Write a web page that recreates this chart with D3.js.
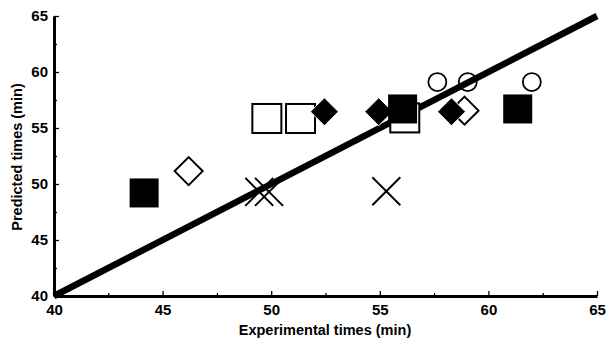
<!DOCTYPE html>
<html>
<head>
<meta charset="utf-8">
<script src="https://cdn.jsdelivr.net/npm/d3@7"></script>
<style>
  body { margin: 0; background: #fff; }
  svg { display: block; }
  text { font-family: "Liberation Sans", Arial, sans-serif; font-weight: bold; fill: #000; }
</style>
</head>
<body>
<div id="chart"></div>
<script>
// Data: [experimental, predicted]
const filledSquares = [[44.15, 49.2], [56.05, 56.7], [61.35, 56.7]];
const openSquares = [[49.8, 55.85], [51.35, 55.85], [56.15, 55.9]];
const openDiamonds = [[46.2, 51.15], [58.9, 56.55]];
const filledDiamonds = [[52.45, 56.45], [54.95, 56.45], [58.3, 56.45]];
const openCircles = [[57.65, 59.1], [59.05, 59.1], [62.0, 59.1]];
const crosses = [[49.45, 49.3], [49.9, 49.3], [55.3, 49.35]];
const majorTicks = [40, 45, 50, 55, 60, 65];
const minorTicks = [42.5, 47.5, 52.5, 57.5, 62.5];
const identityLine = [[40, 40], [65, 65]];

const width = 606, height = 341;
const margin = { top: 16, right: 9, bottom: 45, left: 54 };

const svg = d3.select("#chart").append("svg")
    .attr("width", width)
    .attr("height", height);

const x = d3.scaleLinear().domain([40, 65]).range([margin.left, width - margin.right]);
const y = d3.scaleLinear().domain([40, 65]).range([height - margin.bottom, margin.top]);

// y=x line
svg.append("path")
    .datum(identityLine)
    .attr("fill", "none")
    .attr("stroke", "#000")
    .attr("stroke-width", 6.5)
    .attr("d", d3.line().x(d => x(d[0])).y(d => y(d[1])));

// Axes (ticks point inward)
const gx = svg.append("g").attr("transform", `translate(0,${y(40)})`);
gx.call(d3.axisBottom(x).tickValues(majorTicks).tickSize(-5).tickSizeOuter(0).tickPadding(8));
gx.append("g").call(d3.axisBottom(x).tickValues(minorTicks).tickSize(-3).tickFormat(""))
    .select(".domain").remove();

const gy = svg.append("g").attr("transform", `translate(${x(40)},0)`);
gy.call(d3.axisLeft(y).tickValues(majorTicks).tickSize(-5).tickSizeOuter(0).tickPadding(6));
gy.append("g").call(d3.axisLeft(y).tickValues(minorTicks).tickSize(-3).tickFormat(""))
    .select(".domain").remove();

svg.selectAll(".domain").attr("stroke-width", 3);
svg.selectAll(".tick line").attr("stroke-width", 1.3);
svg.selectAll(".tick text").attr("font-size", 15).attr("font-family", null);

// Markers
const sq = 29, dia = 14, r = 9, cr = 14;

svg.append("g").selectAll("line.c1")
    .data(crosses).join("line")
    .attr("x1", d => x(d[0]) - cr).attr("y1", d => y(d[1]) - cr)
    .attr("x2", d => x(d[0]) + cr).attr("y2", d => y(d[1]) + cr)
    .attr("stroke", "#000").attr("stroke-width", 2);
svg.append("g").selectAll("line.c2")
    .data(crosses).join("line")
    .attr("x1", d => x(d[0]) - cr).attr("y1", d => y(d[1]) + cr)
    .attr("x2", d => x(d[0]) + cr).attr("y2", d => y(d[1]) - cr)
    .attr("stroke", "#000").attr("stroke-width", 2);

svg.append("g").selectAll("rect")
    .data(openSquares).join("rect")
    .attr("x", d => x(d[0]) - sq / 2).attr("y", d => y(d[1]) - sq / 2)
    .attr("width", sq).attr("height", sq)
    .attr("fill", "#fff").attr("stroke", "#000").attr("stroke-width", 2);

const diamond = d => `M${x(d[0])},${y(d[1]) - dia}L${x(d[0]) + dia},${y(d[1])}L${x(d[0])},${y(d[1]) + dia}L${x(d[0]) - dia},${y(d[1])}Z`;

svg.append("g").selectAll("path")
    .data(openDiamonds).join("path")
    .attr("d", diamond)
    .attr("fill", "#fff").attr("stroke", "#000").attr("stroke-width", 2);

svg.append("g").selectAll("path")
    .data(filledDiamonds).join("path")
    .attr("d", diamond)
    .attr("fill", "#000").attr("stroke", "#fff").attr("stroke-width", 1);

svg.append("g").selectAll("rect")
    .data(filledSquares).join("rect")
    .attr("x", d => x(d[0]) - sq / 2).attr("y", d => y(d[1]) - sq / 2)
    .attr("width", sq).attr("height", sq)
    .attr("fill", "#000");

svg.append("g").selectAll("circle")
    .data(openCircles).join("circle")
    .attr("cx", d => x(d[0])).attr("cy", d => y(d[1]))
    .attr("r", r)
    .attr("fill", "none").attr("stroke", "#000").attr("stroke-width", 1.8);

// Axis titles
svg.append("text")
    .attr("x", 325)
    .attr("y", height - 6)
    .attr("text-anchor", "middle")
    .attr("font-size", 14.5)
    .text("Experimental times (min)");

svg.append("text")
    .attr("transform", `translate(22,157)rotate(-90)`)
    .attr("text-anchor", "middle")
    .attr("font-size", 14.5)
    .text("Predicted times (min)");
</script>
</body>
</html>
